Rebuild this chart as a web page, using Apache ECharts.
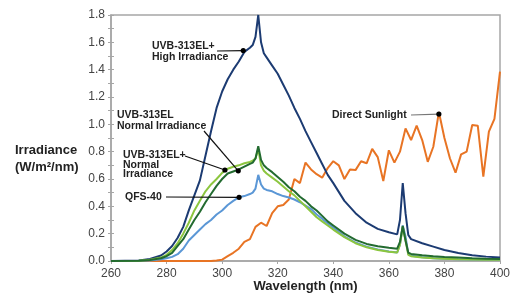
<!DOCTYPE html>
<html>
<head>
<meta charset="utf-8">
<script src="https://cdn.jsdelivr.net/npm/echarts@6/dist/echarts.min.js"></script>
<style>
  html, body { margin: 0; padding: 0; background: #fff; }
  #chart { width: 522px; height: 295px; }
</style>
</head>
<body>
<div id="chart"></div>
<script>
// lamp spectra share one wavelength grid (nm)
var lampWl = [260, 270, 274, 278, 280, 282, 284, 286, 288, 290, 292, 294, 296, 298, 300, 302, 304, 306, 308, 310,
  311, 312, 313, 314, 315, 316, 318, 320, 322, 324, 326, 328, 330, 332, 334, 336, 338, 340, 344, 348,
  352, 356, 360, 363, 364, 365, 366, 367, 368, 372, 376, 380, 385, 390, 395, 400];

var highIrr = [0, 0.003, 0.015, 0.04, 0.07, 0.11, 0.17, 0.25, 0.37, 0.48, 0.59, 0.77, 0.95, 1.12, 1.24, 1.33, 1.40, 1.46, 1.53, 1.56,
  1.58, 1.64, 1.80, 1.60, 1.52, 1.49, 1.43, 1.37, 1.29, 1.21, 1.12, 1.04, 0.95, 0.87, 0.79, 0.71, 0.63, 0.57, 0.44, 0.35,
  0.28, 0.235, 0.21, 0.195, 0.30, 0.57, 0.35, 0.19, 0.16, 0.13, 0.105, 0.08, 0.058, 0.042, 0.032, 0.025];

var elNormal = [0, 0.002, 0.008, 0.02, 0.035, 0.06, 0.11, 0.16, 0.23, 0.30, 0.36, 0.43, 0.49, 0.55, 0.60, 0.64, 0.655, 0.67, 0.69, 0.71,
  0.72, 0.75, 0.84, 0.74, 0.70, 0.68, 0.65, 0.615, 0.58, 0.54, 0.51, 0.47, 0.44, 0.40, 0.37, 0.33, 0.29, 0.26, 0.20, 0.155,
  0.125, 0.108, 0.097, 0.09, 0.14, 0.256, 0.15, 0.06, 0.052, 0.042, 0.035, 0.03, 0.025, 0.02, 0.017, 0.015];

var elPlusNormal = [0, 0.002, 0.01, 0.025, 0.045, 0.08, 0.13, 0.20, 0.28, 0.37, 0.44, 0.51, 0.56, 0.60, 0.645, 0.675, 0.69, 0.70, 0.715, 0.725,
  0.735, 0.75, 0.82, 0.70, 0.66, 0.64, 0.61, 0.58, 0.545, 0.51, 0.48, 0.44, 0.40, 0.36, 0.32, 0.29, 0.26, 0.23, 0.175, 0.13,
  0.10, 0.08, 0.068, 0.062, 0.12, 0.25, 0.15, 0.045, 0.035, 0.025, 0.02, 0.016, 0.013, 0.011, 0.01, 0.01];

var qfs40 = [0, 0.001, 0.004, 0.012, 0.02, 0.03, 0.05, 0.09, 0.15, 0.19, 0.23, 0.27, 0.30, 0.34, 0.37, 0.41, 0.44, 0.466, 0.475, 0.49,
  0.50, 0.53, 0.63, 0.56, 0.53, 0.52, 0.51, 0.49, 0.475, 0.465, 0.45, 0.43, 0.405, 0.38, 0.34, 0.31, 0.275, 0.245, 0.18, 0.135,
  0.105, 0.085, 0.07, 0.062, 0.12, 0.26, 0.18, 0.05, 0.038, 0.028, 0.02, 0.016, 0.013, 0.011, 0.01, 0.01];

// direct sunlight has its own grid
var sunWl = [260, 296, 298, 300, 302, 304, 306, 308, 310, 312, 314, 316, 318, 320, 322, 324, 326, 328, 330, 332, 334, 336, 338, 340,
  342, 344, 346, 348, 350, 352, 354, 356, 358, 360, 362, 364, 366, 368, 370, 372, 374, 376, 378, 380, 382, 384, 386, 388,
  390, 392, 394, 396, 398, 400];
var sunlight = [0, 0, 0.003, 0.01, 0.035, 0.06, 0.09, 0.14, 0.16, 0.25, 0.28, 0.256, 0.35, 0.40, 0.41, 0.45, 0.60, 0.57, 0.72, 0.67, 0.635, 0.61, 0.68, 0.73,
  0.70, 0.60, 0.67, 0.665, 0.73, 0.715, 0.82, 0.76, 0.585, 0.81, 0.72, 0.80, 0.97, 0.885, 0.99, 0.885, 0.726, 0.836, 1.09, 0.90, 0.75, 0.646, 0.78, 0.80,
  0.995, 0.99, 0.617, 0.946, 1.04, 1.385];

var xTicks = [260, 280, 300, 320, 340, 360, 380, 400];

function pairs(xs, ys) {
  return xs.map(function (x, i) { return [x, ys[i]]; });
}

var chart = echarts.init(document.getElementById('chart'), null, { renderer: 'canvas' });

var FONT = '"Liberation Sans", Arial, sans-serif';

function line(name, data, color) {
  return {
    name: name, type: 'line', data: data, showSymbol: false, symbol: 'none',
    lineStyle: { color: color, width: 2 }, z: 3, animation: false
  };
}

chart.setOption({
  animation: false,
  grid: { left: 111, right: 22, top: 15, bottom: 34, outerBoundsMode: 'none', containLabel: false,
    show: true, borderColor: '#a6a6a6', borderWidth: 1.5 },
  xAxis: {
    type: 'value', min: 260, max: 400, interval: 20,
    name: 'Wavelength (nm)', nameLocation: 'middle', nameGap: 19, nameMoveOverlap: false,
    nameTextStyle: { fontFamily: FONT, fontWeight: 'bold', fontSize: 13, color: '#222' },
    axisLine: { lineStyle: { color: '#a6a6a6', width: 1.5 } },
    axisTick: { length: 3, lineStyle: { color: '#a6a6a6' } },
    axisLabel: { fontFamily: FONT, fontSize: 12, color: '#444', margin: 7,
      formatter: function (v) { return xTicks.indexOf(v) >= 0 ? String(v) : ''; } },
    splitLine: { show: false }
  },
  yAxis: [{
    type: 'value', min: 0, max: 1.8, interval: 0.2,
    axisLine: { lineStyle: { color: '#a6a6a6', width: 1.5 } },
    axisTick: { length: 3, lineStyle: { color: '#a6a6a6' } },
    minorTick: { show: true, splitNumber: 2, length: 3, lineStyle: { color: '#a6a6a6' } },
    axisLabel: { fontFamily: FONT, fontSize: 12, color: '#444', margin: 6,
      formatter: function (v) { return v.toFixed(1); } },
    splitLine: { show: false }
  }, {
    type: 'value', min: 0, max: 1.8, interval: 0.2, position: 'left',
    axisLine: { show: false },
    axisTick: { inside: true, length: 3, lineStyle: { color: '#a6a6a6' } },
    minorTick: { show: true, splitNumber: 2, length: 3, lineStyle: { color: '#a6a6a6' } },
    axisLabel: { show: false },
    splitLine: { show: false }
  }],
  series: [
    line('Direct Sunlight', pairs(sunWl, sunlight), '#e87424'),
    line('UVB-313EL+ High Irradiance', pairs(lampWl, highIrr), '#1c3b72'),
    line('QFS-40', pairs(lampWl, qfs40), '#5b97d6'),
    line('UVB-313EL+ Normal Irradiance', pairs(lampWl, elPlusNormal), '#8cc63f'),
    line('UVB-313EL Normal Irradiance', pairs(lampWl, elNormal), '#236b30')
  ]
});

// annotation labels; dots sit on the curves (data coords)
var notes = [
  { lines: ['UVB-313EL+', 'High Irradiance'], x: 152, y: 41, lh: 11, from: [217, 51], dot: [307.6, 1.54], lc: '#111' },
  { lines: ['UVB-313EL', 'Normal Irradiance'], x: 117, y: 109, lh: 11.5, from: [204, 131], dot: [305.8, 0.66], lc: '#111' },
  { lines: ['UVB-313EL+', 'Normal', 'Irradiance'], x: 123, y: 150, lh: 9.5, from: [185, 156], dot: [301, 0.666], lc: '#111' },
  { lines: ['QFS-40'], x: 125, y: 191.5, lh: 11, from: [166, 197], dot: [306.1, 0.466], lc: '#111' },
  { lines: ['Direct Sunlight'], x: 332, y: 109.5, lh: 11, from: [411, 115], dot: [378, 1.075], lc: '#777' }
];

var g = [];
notes.forEach(function (n) {
  var p = chart.convertToPixel({ gridIndex: 0 }, n.dot);
  g.push({ type: 'text', left: n.x, top: n.y, z: 10,
    style: { text: n.lines.join('\n'), fontFamily: FONT, fontWeight: 'bold', fontSize: 10.5,
      lineHeight: n.lh, fill: '#222' } });
  g.push({ type: 'line', z: 10, shape: { x1: n.from[0], y1: n.from[1], x2: p[0], y2: p[1] },
    style: { stroke: n.lc, lineWidth: 1.2 } });
  g.push({ type: 'circle', z: 11, shape: { cx: p[0], cy: p[1], r: 2.6 }, style: { fill: '#000' } });
});
g.push({ type: 'text', left: 15, top: 142, z: 10,
  style: { text: 'Irradiance\n(W/m²/nm)', fontFamily: FONT, fontWeight: 'bold', fontSize: 13,
    lineHeight: 17, fill: '#222' } });
chart.setOption({ graphic: g });
</script>
</body>
</html>
